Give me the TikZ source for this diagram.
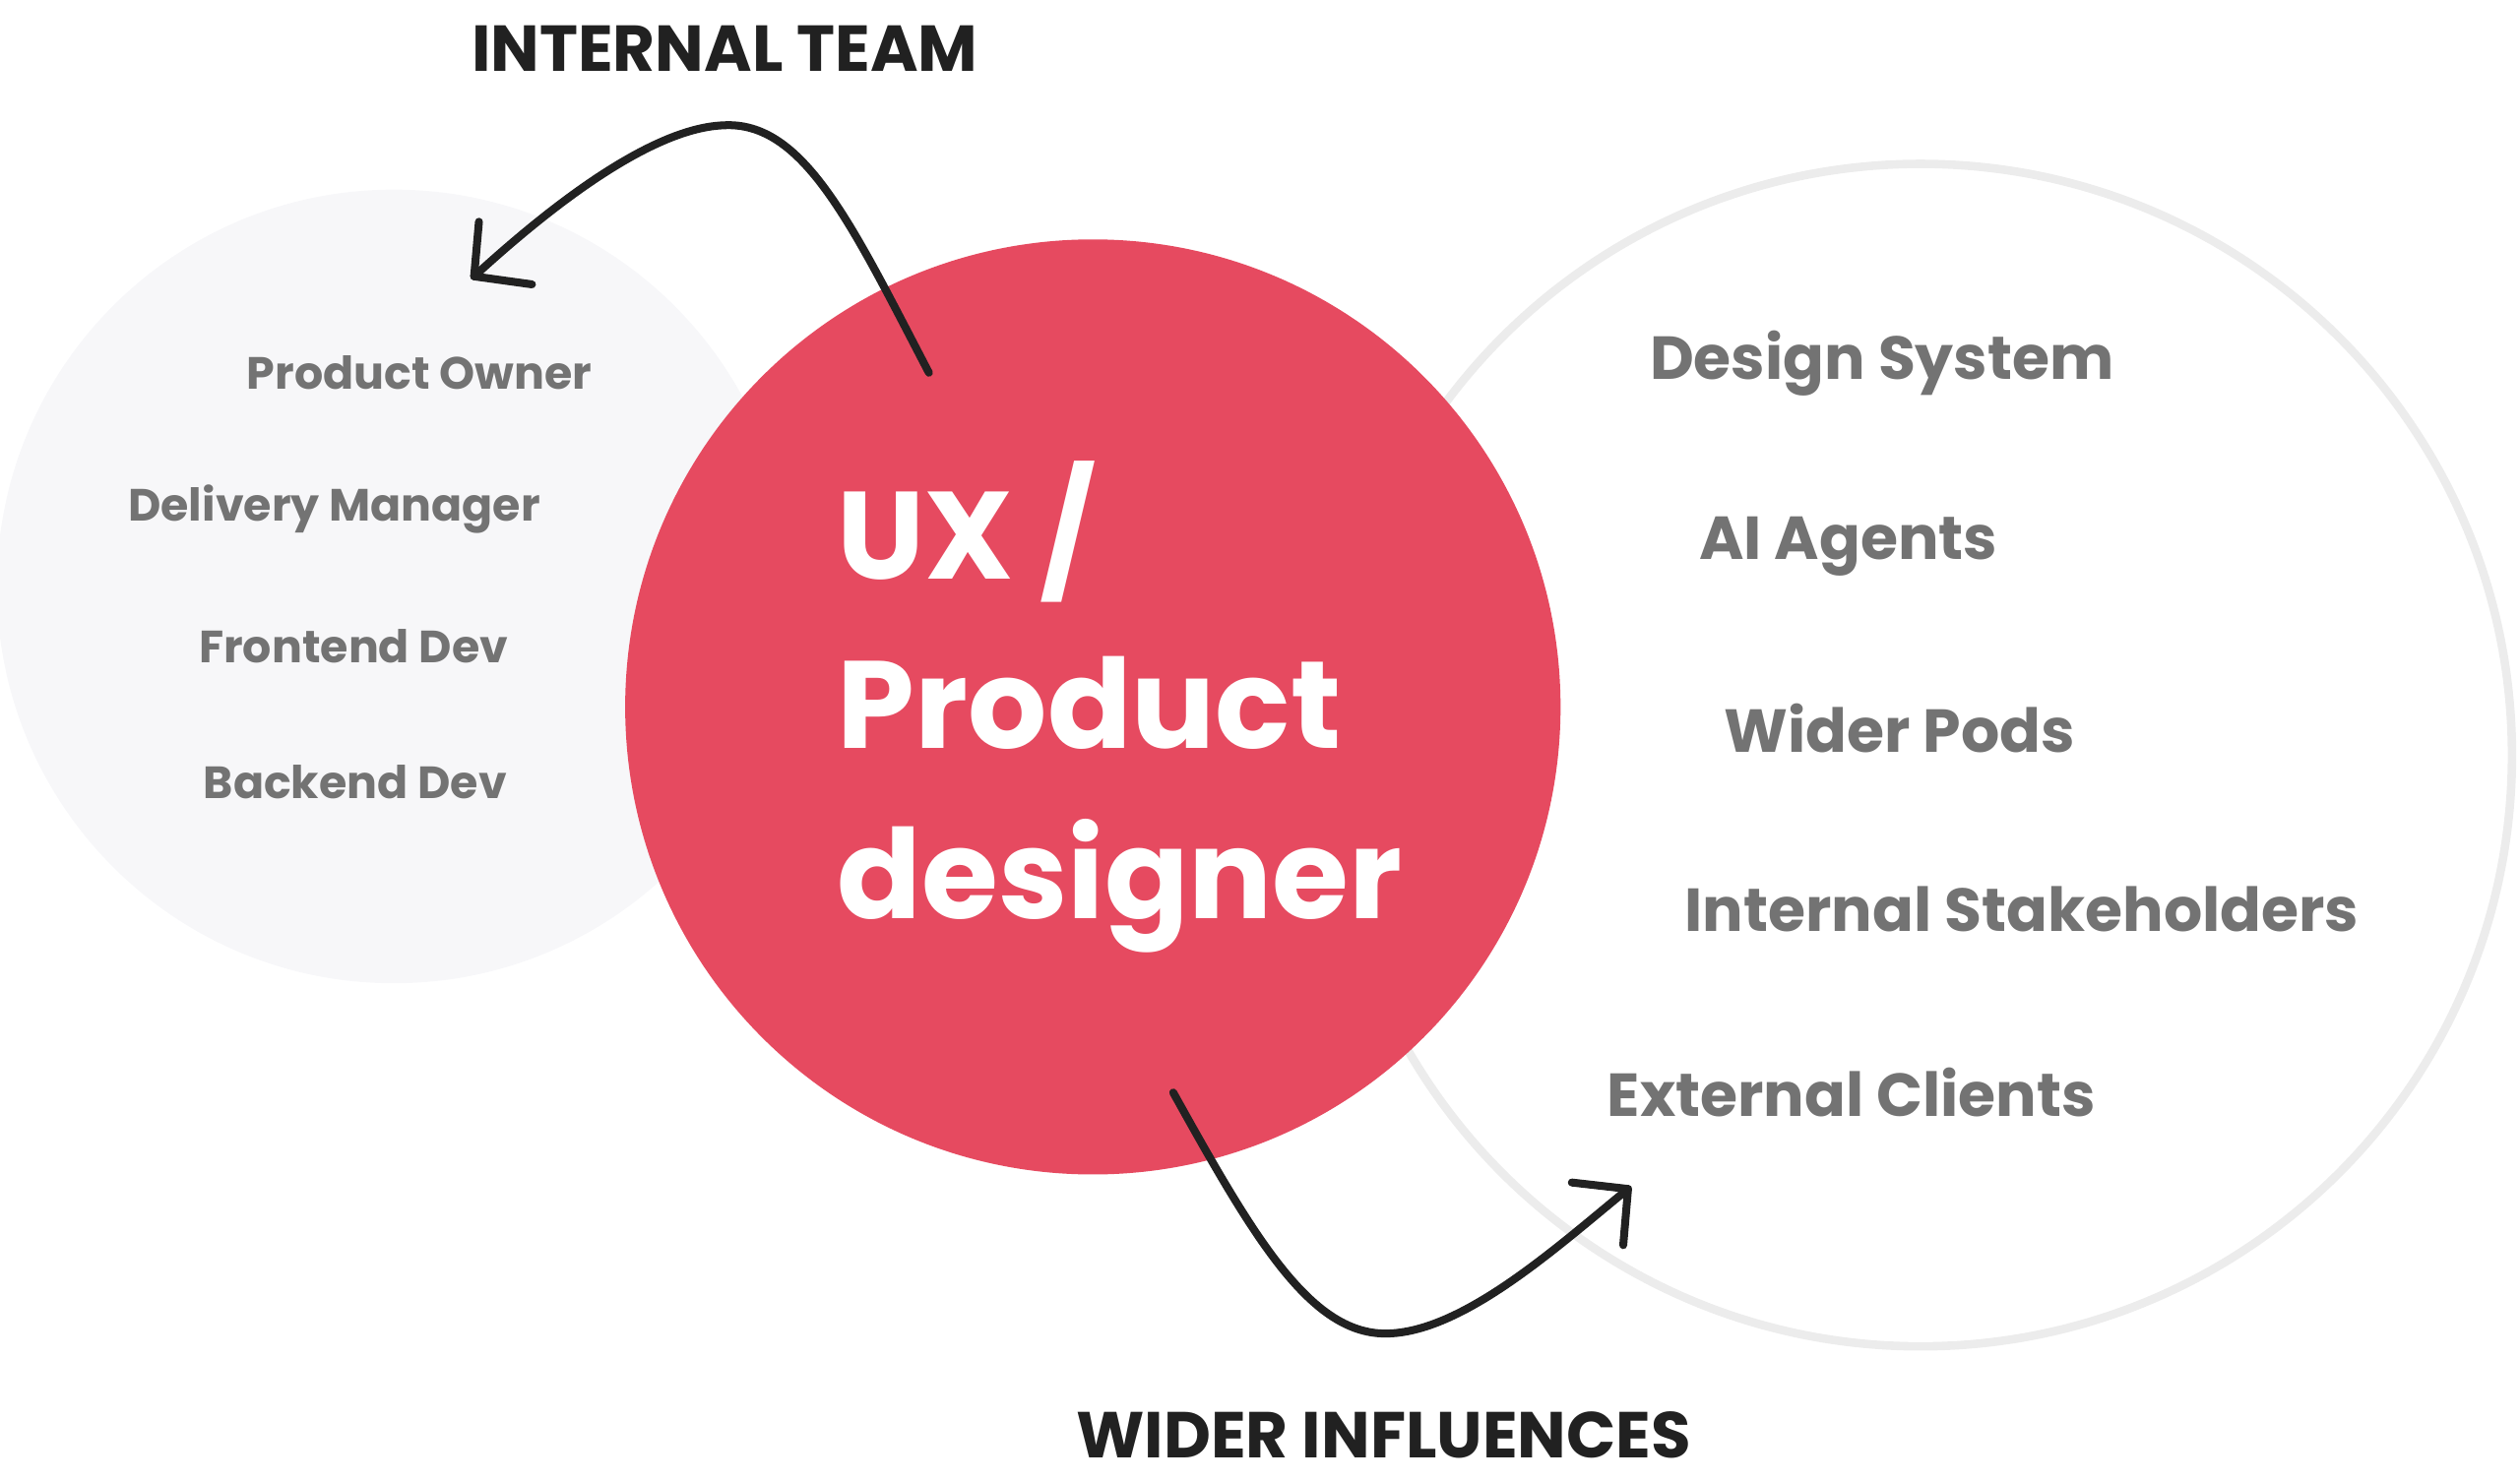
\documentclass[tikz,border=0pt]{standalone}
\usepackage{fontspec}
\setmainfont{Poppins}
\begin{document}
\begin{tikzpicture}[x=0.02cm,y=-0.02cm,
 grey/.style={text=black!55,font=\bfseries\fontsize{16}{18}\selectfont},
 rgrey/.style={text=black!55,font=\bfseries\fontsize{21.5}{24}\selectfont},
 title/.style={text=black!87,font=\bfseries\fontsize{23}{26}\selectfont},
 arr/.style={line width=2.8pt,black!87,line cap=round,line join=round}]
\definecolor{redc}{HTML}{E64A60}
\useasboundingbox (0,0) rectangle (1568,922.4);
\fill[color={rgb,255:red,247;green,247;blue,249}] (245,365) circle (247);
\draw[line width=3pt,color={rgb,255:red,236;green,236;blue,236}] (1195,470) circle (368);
\fill[redc] (680,440) circle (291);
\node[anchor=west,text=white,align=left,font=\bfseries\fontsize{44}{60}\selectfont] (c) at (515,440) {UX /\\Product\\designer};
\node[grey] (a1) at (261,232) {Product Owner};
\node[grey] (a2) at (208,317) {Delivery Manager};
\node[grey] (a3) at (220,402) {Frontend Dev};
\node[grey] (a4) at (221,487) {Backend Dev};
\node[rgrey] (b1) at (1171,226) {Design System};
\node[rgrey] (b2) at (1150,340) {AI Agents};
\node[rgrey] (b3) at (1182,453) {Wider Pods};
\node[rgrey] (b4) at (1258,566) {Internal Stakeholders};
\node[rgrey] (b5) at (1152,680) {External Clients};
\node[title] (t1) at (451,30) {INTERNAL TEAM};
\node[title] (t2) at (861,893) {WIDER INFLUENCES};
\coordinate (s1) at (578,232); \coordinate (e1) at (295,172);
\coordinate (s2) at (730,680); \coordinate (e2) at (1013,740);
\draw[arr] (s1) .. controls (530,140) and (500,75) .. (450,78) .. controls (400,80) and (330,140) .. (e1);
\draw[arr] (298,138) -- (e1) -- (331,177);
\draw[arr] (s2) .. controls (780,770) and (815,830) .. (862,830) .. controls (910,830) and (970,775) .. (e2);
\draw[arr] (1010,775) -- (e2) -- (978,736);
\end{tikzpicture}
\end{document}
